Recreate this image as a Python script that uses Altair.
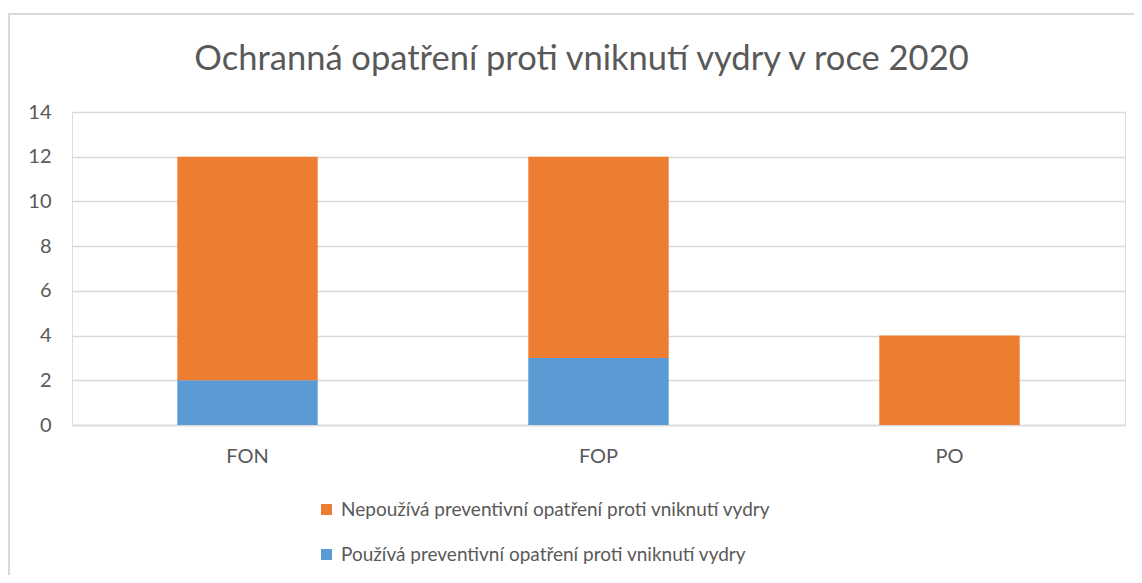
import altair as alt
import pandas as pd

categories = ["FON", "FOP", "PO"]
pouziva = [2, 3, 0]
nepouziva = [10, 9, 4]
series = [
    "Nepoužívá preventivní opatření proti vniknutí vydry",
    "Používá preventivní opatření proti vniknutí vydry",
]
colors = ["#ED7D31", "#5B9BD5"]
y_ticks = [0, 2, 4, 6, 8, 10, 12, 14]
title_text = "Ochranná opatření proti vniknutí vydry v roce 2020"

rows = []
for c, p, n in zip(categories, pouziva, nepouziva):
    rows.append({"kat": c, "serie": series[1], "hodnota": p, "poradi": 0})
    rows.append({"kat": c, "serie": series[0], "hodnota": n, "poradi": 1})
df = pd.DataFrame(rows)

FONT = "Lato"
TXT = "#595959"
GRID = "#D9D9D9"

bars = alt.Chart(df).mark_bar(stroke=None).encode(
    x=alt.X(
        "kat:N",
        sort=categories,
        title=None,
        scale=alt.Scale(paddingInner=0.6, paddingOuter=0.3),
        axis=alt.Axis(
            labelAngle=0,
            ticks=False,
            domain=True,
            domainColor=GRID,
            domainWidth=1.5,
            labelFont=FONT,
            labelFontSize=20,
            labelColor=TXT,
            labelPadding=21,
            grid=False,
        ),
    ),
    y=alt.Y(
        "hodnota:Q",
        stack="zero",
        title=None,
        scale=alt.Scale(domain=[0, 14], nice=False),
        axis=alt.Axis(
            values=y_ticks,
            ticks=False,
            domain=False,
            grid=True,
            gridColor=GRID,
            gridWidth=1.5,
            labelFont=FONT,
            labelFontSize=20,
            labelColor=TXT,
            labelPadding=21,
        ),
    ),
    color=alt.Color(
        "serie:N",
        scale=alt.Scale(domain=series, range=colors),
        legend=alt.Legend(
            title=None,
            orient="none",
            legendX=245,
            legendY=388,
            direction="vertical",
            symbolType="square",
            symbolSize=121,
            symbolStrokeWidth=0,
            labelFont=FONT,
            labelFontSize=19,
            labelColor=TXT,
            labelLimit=800,
            rowPadding=25,
            symbolOffset=0,
            labelOffset=5,
        ),
    ),
    order=alt.Order("poradi:Q", sort="ascending"),
)

border_df = pd.DataFrame({"a": [0]})
top_rule = alt.Chart(border_df).mark_rule(color=GRID, strokeWidth=2).encode(
    x=alt.value(-64), x2=alt.value(1070), y=alt.value(-98)
)
left_rule = alt.Chart(border_df).mark_rule(color=GRID, strokeWidth=2).encode(
    x=alt.value(-63), y=alt.value(-98), y2=alt.value(470)
)

chart = (
    alt.layer(top_rule, left_rule, bars)
    .properties(
        width=1053,
        height=313,
        autosize=alt.AutoSizeParams(type="none"),
        padding={"left": 64, "top": 104, "right": 9, "bottom": 150},
        title=alt.TitleParams(
            title_text,
            font=FONT,
            fontSize=34.5,
            fontWeight="normal",
            color=TXT,
            anchor="middle",
            baseline="alphabetic",
            offset=-91,
            dx=-17,
        ),
    )
    .configure_view(stroke=None)
    .configure(background="white")
)

chart.save("out.html", embed_options={"renderer": "svg", "actions": False})
